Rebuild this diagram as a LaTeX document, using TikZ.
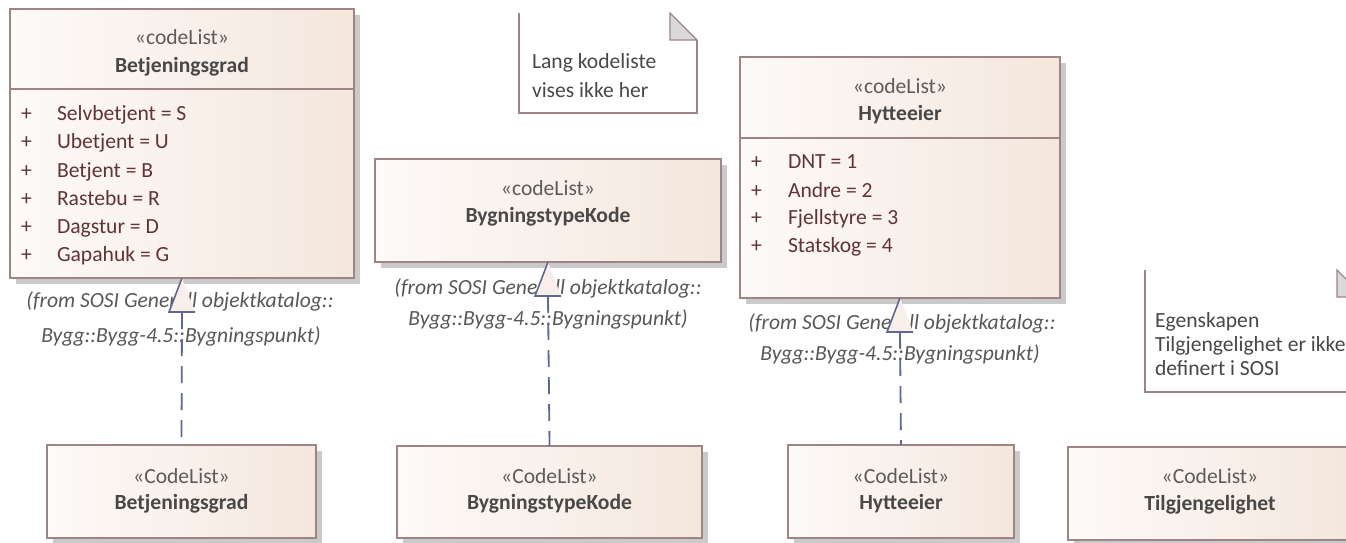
\documentclass[tikz,border=0pt]{standalone}
\usepackage{fontspec}
\setmainfont{Carlito}
\usetikzlibrary{shadows}

\definecolor{bordc}{RGB}{158,132,132}
\definecolor{fillL}{RGB}{253,250,248}
\definecolor{fillR}{RGB}{244,231,221}
\definecolor{shadc}{RGB}{202,202,202}
\definecolor{depc}{RGB}{92,106,142}
\definecolor{trifill}{RGB}{250,238,234}
\definecolor{stc}{RGB}{92,92,92}
\definecolor{namec}{RGB}{72,72,72}
\definecolor{attc}{RGB}{96,52,52}
\definecolor{fromc}{RGB}{88,88,88}
\definecolor{foldc}{RGB}{218,218,218}

\newcommand\diafont{\fontsize{21.6}{26}\selectfont}

\begin{document}
\begin{tikzpicture}[x=1pt,y=-1pt,
  txt/.style={inner sep=0pt, outer sep=0pt, font=\diafont},
  classbox/.style={rectangle, draw=bordc, line width=1.7pt, left color=fillL, right color=fillR,
    inner sep=0pt, outer sep=0pt, anchor=north west,
    general shadow={fill=shadc, shadow xshift=6pt, shadow yshift=-6pt}},
  notebg/.style={rectangle, fill=white, inner sep=0pt, outer sep=0pt, anchor=north west},
  noteline/.style={draw=bordc, line width=1.7pt},
  fold/.style={fill=foldc, draw=bordc, line width=1.2pt, line join=miter},
  divider/.style={draw=bordc, line width=1.7pt},
  ster/.style={txt, text=stc, anchor=base},
  cname/.style={txt, text=namec, anchor=base, font=\diafont\bfseries},
  attr/.style={txt, text=attc, anchor=base west},
  fromtxt/.style={txt, text=fromc, anchor=base, font=\diafont\itshape},
  notetxt/.style={txt, text=namec, anchor=base west},
  tri/.style={draw=depc, line width=1.6pt, line join=miter},
  dep/.style={draw=depc, line width=1.8pt, dash pattern=on 17pt off 10pt}
]
\useasboundingbox (0,0) rectangle (1346,542);
\clip (0,0) rectangle (1346,542);
\fill[white] (0,0) rectangle (1346,542);

% ---------- notes ----------
\node[notebg, minimum width=178pt, minimum height=100pt] (n1) at (519,13) {};
\draw[noteline] (n1.north west) -- (n1.south west) -- (n1.south east) -- ([yshift=-27pt]n1.north east);
\filldraw[fold] ([xshift=-27pt]n1.north east) -- ([yshift=-27pt]n1.north east)
  -- ([shift={(-27,27)}]n1.north east) -- cycle;
\node[notetxt] (n1a) at (532,68) {Lang kodeliste};
\node[notetxt] (n1b) at (532,97) {vises ikke her};

\node[notebg, minimum width=219pt, minimum height=122pt] (n2) at (1145,270) {};
\draw[noteline] (n2.north west) -- (n2.south west) -- (n2.south east) -- ([yshift=-27pt]n2.north east);
\filldraw[fold] ([xshift=-27pt]n2.north east) -- ([yshift=-27pt]n2.north east)
  -- ([shift={(-27,27)}]n2.north east) -- cycle;
\node[notetxt] (n2a) at (1155,327) {Egenskapen};
\node[notetxt] (n2b) at (1155,351) {Tilgjengelighet er ikke};
\node[notetxt] (n2c) at (1155,375) {definert i SOSI};

% ---------- upper code lists ----------
\node[classbox, minimum width=344pt, minimum height=269pt] (bg) at (10,9) {};
\draw[divider] (10,89) -- (354,89);
\node[ster]  (bgS) at (182,44) {«codeList»};
\node[cname] (bgN) at (182,72) {Betjeningsgrad};
\foreach \y/\t [count=\i] in {120/Selvbetjent = S, 148.5/Ubetjent = U, 177/Betjent = B,
    205/Rastebu = R, 233/Dagstur = D, 261.5/Gapahuk = G} {
  \node[attr] (bgp\i) at (21,\y) {+};
  \node[attr] (bga\i) at (57,\y) {\t};
}

\node[classbox, minimum width=346pt, minimum height=103pt] (bt) at (375,159) {};
\node[ster]  (btS) at (548,195) {«codeList»};
\node[cname] (btN) at (548,222) {BygningstypeKode};

\node[classbox, minimum width=320pt, minimum height=241pt] (hy) at (740,57) {};
\draw[divider] (740,138) -- (1060,138);
\node[ster]  (hyS) at (900,93) {«codeList»};
\node[cname] (hyN) at (900,120) {Hytteeier};
\foreach \y/\t [count=\i] in {168/DNT = 1, 197/Andre = 2, 224/Fjellstyre = 3, 252/Statskog = 4} {
  \node[attr] (hyp\i) at (751,\y) {+};
  \node[attr] (hya\i) at (788,\y) {\t};
}

% ---------- lower code lists ----------
\node[classbox, minimum width=269pt, minimum height=93pt] (bgc) at (47,445) {};
\node[ster]  (bgcS) at (181.5,483) {«CodeList»};
\node[cname] (bgcN) at (181.5,509) {Betjeningsgrad};

\node[classbox, minimum width=305pt, minimum height=92pt] (btc) at (397,446) {};
\node[ster]  (btcS) at (549.5,483) {«CodeList»};
\node[cname] (btcN) at (549.5,509) {BygningstypeKode};

\node[classbox, minimum width=226pt, minimum height=93pt] (hyc) at (788,445) {};
\node[ster]  (hycS) at (901,483) {«CodeList»};
\node[cname] (hycN) at (901,509) {Hytteeier};

\node[classbox, minimum width=284pt, minimum height=93pt] (tg) at (1068,447) {};
\node[ster]  (tgS) at (1210,483) {«CodeList»};
\node[cname] (tgN) at (1210,510) {Tilgjengelighet};

% ---------- package labels ----------
\node[fromtxt] (bgF1) at (180,307) {(from SOSI Generell objektkatalog::};
\node[fromtxt] (bgF2) at (181,342) {Bygg::Bygg-4.5::Bygningspunkt)};
\node[fromtxt] (btF1) at (548,294) {(from SOSI Generell objektkatalog::};
\node[fromtxt] (btF2) at (548,325) {Bygg::Bygg-4.5::Bygningspunkt)};
\node[fromtxt] (hyF1) at (902,329) {(from SOSI Generell objektkatalog::};
\node[fromtxt] (hyF2) at (900,360) {Bygg::Bygg-4.5::Bygningspunkt)};

% ---------- realizations ----------
\foreach \s/\c in {bg/bgc, bt/btc, hy/hyc} {
  \coordinate (\s base) at ([yshift=-34pt]\s.south);
  \fill[trifill] (\s.south) -- ++(-13,34) -- ++(26,0) -- cycle;
  \draw[dep] (\s base) -- (\c.north);
  \draw[tri] (\s.south) -- ++(-13,34) -- ++(26,0);
}
\end{tikzpicture}
\end{document}
